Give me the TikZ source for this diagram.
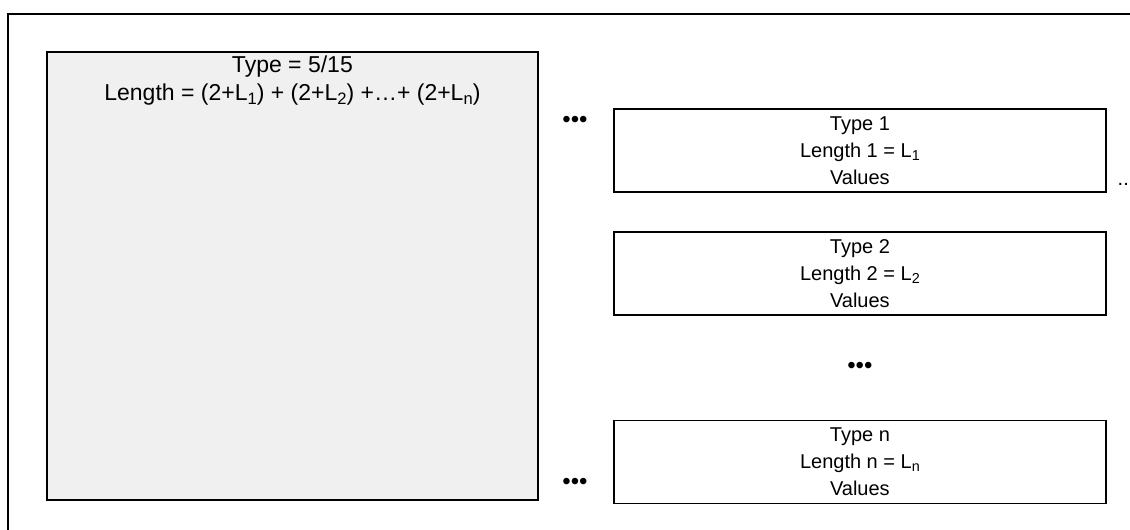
\documentclass[tikz,border=0pt]{standalone}
\usepackage{fontspec}
\usepackage{graphicx}
\setmainfont{Liberation Sans}
\usetikzlibrary{positioning,calc}

\definecolor{boxgray}{RGB}{240,240,240}
% index of a length, a bit larger than \textsubscript
\newcommand{\lsub}[1]{\raisebox{-0.16em}{\scalebox{0.72}{#1}}}

\begin{document}
\begin{tikzpicture}[
        x=1pt,y=-1pt,
        frame/.style={line width=1.8pt},
        container/.style={
          draw,
          line width=1.8pt,
          fill=boxgray,
          minimum width=491pt,
          minimum height=448pt,
          inner sep=0pt
        },
        heading/.style={
          align=center,
          inner sep=0pt,
          font=\fontsize{23}{28}\selectfont
        },
        field/.style={
          draw,
          line width=1.8pt,
          align=center,
          minimum width=492pt,
          minimum height=83pt,
          inner sep=0pt,
          font=\fontsize{20}{27}\selectfont
        },
        dots/.style={inner sep=0pt, font=\fontsize{24}{24}\selectfont}]
      \useasboundingbox (0,0) rectangle (1130,530);
      \draw[frame] (1135,14) -| (8,535);
      % the outer TLV and its header
      \node[container, anchor=north west] (tlv) at (46,51) {};
      \node[heading, anchor=north] (head) at ([yshift=-5pt]tlv.north) {%
        Type = 5/15\\
        Length = (2+L\lsub{1}) + (2+L\lsub{2}) +…+ (2+L\lsub{n})};
      % the nested TLVs
      \node[field, anchor=north west] (sub1) at (613,108) {%
        Type 1\\ Length 1 = L\lsub{1}\\ Values};
      \node[field] (sub2) [below=38pt of sub1] {%
        Type 2\\ Length 2 = L\lsub{2}\\ Values};
      \node[field] (subn) [below=104pt of sub2] {%
        Type n\\ Length n = L\lsub{n}\\ Values};
      \node[dots] (gap) at ($(sub2.south)!0.5!(subn.north)$) {•••};
      \node[dots] (first) at (575,122) {•••};
      \node[dots] (last) at (575,484) {•••};
      \node[field, draw=none, minimum width=0pt, minimum height=0pt,
        anchor=base west] (more) at ([xshift=10pt,yshift=7pt]sub1.south east) {..};
\end{tikzpicture}
\end{document}
